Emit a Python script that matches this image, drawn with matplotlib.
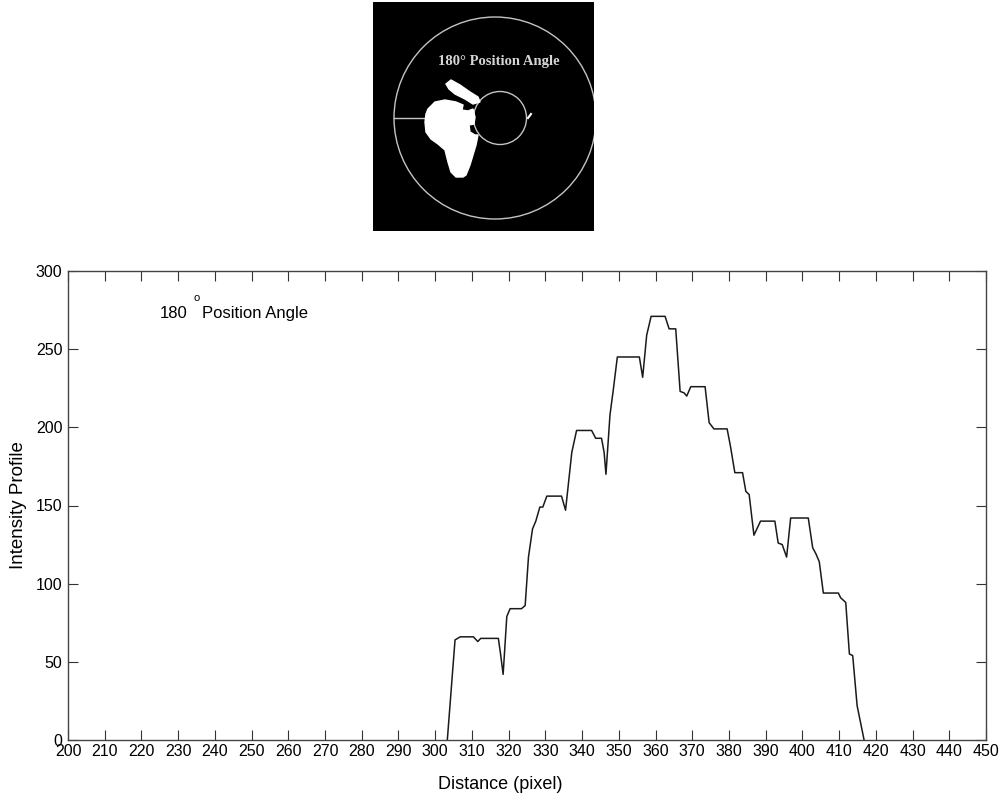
import numpy as np
import matplotlib
matplotlib.use("Agg")
import matplotlib.pyplot as plt
from matplotlib.patches import Polygon, Circle, Rectangle

plt.rcParams['font.family'] = ['Liberation Sans', 'DejaVu Sans']

# ---------------- Data ----------------
distance = [303.3, 305.4, 306.8, 310.4, 311.6, 312.4, 317.2, 317.8, 318.5, 319.5,
            320.4, 323.5, 324.5, 325.4, 326.5, 327.4, 328.5, 329.3, 330.4, 334.4,
            335.5, 337.2, 338.5, 342.6, 343.7, 345.3, 346.0, 346.5, 347.6, 348.5,
            349.6, 355.6, 356.5, 357.6, 358.8, 362.6, 363.7, 365.5, 366.7, 367.8,
            368.5, 369.6, 373.5, 374.6, 375.9, 379.5, 380.4, 381.6, 383.7, 384.6,
            385.5, 386.8, 388.6, 392.5, 393.4, 394.5, 395.7, 396.8, 401.6, 402.8,
            403.7, 404.6, 405.7, 409.8, 410.4, 411.8, 412.8, 413.7, 414.9, 416.8]
intensity = [0, 64, 66, 66, 63, 65, 65, 55, 42, 79,
             84, 84, 86, 117, 135, 140, 149, 149, 156, 156,
             147, 184, 198, 198, 193, 193, 184, 170, 208, 224,
             245, 245, 232, 259, 271, 271, 263, 263, 223, 222,
             220, 226, 226, 203, 199, 199, 188, 171, 171, 159,
             157, 131, 140, 140, 126, 125, 117, 142, 142, 123,
             119, 114, 94, 94, 91, 88, 55, 54, 22, 0]

x_ticks = list(range(200, 451, 10))
y_ticks = list(range(0, 301, 50))

# ---------------- Inset artwork (image pixel coords) ----------------
blob_main = [(55, 107), (62, 100), (72, 98), (83, 100), (90, 103), (89, 108), (95, 109),
             (100, 107), (102, 115), (101, 122), (96, 123), (97, 130), (102, 133),
             (105, 133), (103, 143), (100, 153), (97, 163), (93, 173), (90, 175),
             (83, 175), (78, 170), (75, 160), (72, 148), (65, 142), (58, 137),
             (53, 130), (52, 120), (53, 112)]
blob_strip = [(73, 82), (78, 78), (87, 83), (97, 90), (105, 95), (107, 100),
              (100, 102), (92, 97), (82, 92), (76, 87)]

W, H = 1003, 799
fig = plt.figure(figsize=(W / 100, H / 100), dpi=100, facecolor="white")

# inset image
axi = fig.add_axes([373 / W, 1 - 231 / H, 221 / W, 229 / H])
axi.set_xlim(0, 221); axi.set_ylim(229, 0)
axi.axis("off")
axi.add_patch(Rectangle((0, 0), 221, 229, color="black", zorder=0))
axi.add_patch(Circle((122, 116), 101, fill=False, ec="#c4c4c4", lw=1.0))
axi.add_patch(Circle((127, 116), 26.5, fill=False, ec="#c4c4c4", lw=1.0))
axi.plot([21, 101], [116, 116], color="#c4c4c4", lw=1.0)
axi.add_patch(Polygon(blob_main, closed=True, color="white", zorder=3))
axi.add_patch(Polygon(blob_strip, closed=True, color="white", zorder=3))
axi.plot([155, 158], [116, 112], color="white", lw=1.5)
axi.text(65, 60, "180° Position Angle", family=["Liberation Serif", "DejaVu Serif"],
         fontweight="bold", fontsize=10.5, color="#d6d6d6", va="center", ha="left")

# main profile
ax = fig.add_axes([68 / W, 1 - 740 / H, 918 / W, 469 / H])
ax.plot(distance, intensity, color="#1a1a1a", lw=1.1)
ax.set_xlim(200, 450)
ax.set_ylim(0, 300)
ax.set_xticks(x_ticks)
ax.set_yticks(y_ticks)
ax.tick_params(direction="in", top=True, right=True, length=7, width=0.8,
               color="#333333", labelsize=11.5, pad=3)
ax.tick_params(axis="y", pad=4)
for s in ax.spines.values():
    s.set_color("#444444"); s.set_linewidth(1.0)
ax.set_xlabel("Distance (pixel)", fontsize=13)
ax.set_ylabel("Intensity Profile", fontsize=13.5)
ax.xaxis.set_label_coords((500 - 68) / 918, -36 / 469)
ax.yaxis.set_label_coords(-41 / 918, 0.5)

ax.text(225.0, 273, "180", fontsize=12, va="center", ha="left")
ax.text(235.0, 283, "o", fontsize=8, va="center", ha="center")
ax.text(236.6, 273, "Position Angle", fontsize=12, va="center", ha="left")

fig.savefig("out.png", dpi=100, facecolor="white")
